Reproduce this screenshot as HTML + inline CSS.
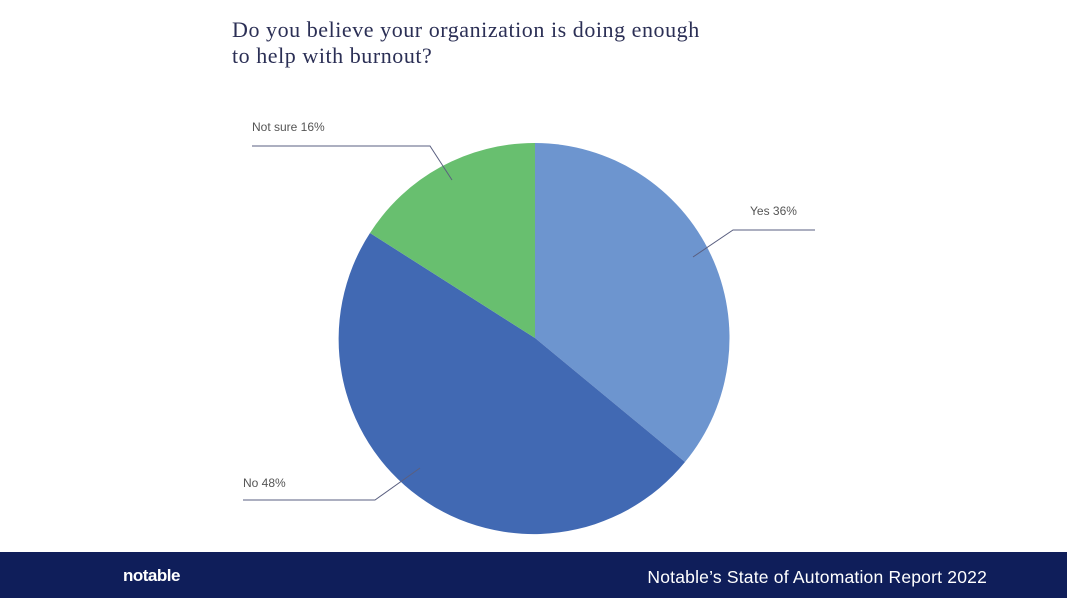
<!DOCTYPE html>
<html><head><style>
html,body{margin:0;padding:0;background:#fff;width:1067px;height:600px;overflow:hidden;position:relative}
.t{position:absolute;left:232px;top:17px;font-family:"Liberation Serif",serif;font-size:22px;line-height:26px;color:#2b2f55;letter-spacing:0.55px}
.f{position:absolute;left:0;top:552px;width:1067px;height:46px;background:#0f1e5a}
.f .l{position:absolute;left:123px;top:14px;color:#fff;font-family:"Liberation Sans",sans-serif;font-weight:bold;font-size:17px;letter-spacing:-0.5px}
.f .r{position:absolute;right:80px;top:15px;color:#fff;font-family:"Liberation Sans",sans-serif;font-size:17.5px;letter-spacing:0.2px}
svg{position:absolute;left:0;top:0}
</style></head><body>
<div class="t">Do you believe your organization is doing enough<br>to help with burnout?</div>
<svg width="1067" height="552">
<path d="M535,338 L535,143 A195,195 0 0 1 685,462 Z" fill="#6d95cf"/>
<path d="M535,338 L685,462 A195,195 0 0 1 370,233 Z" fill="#4169b3"/>
<path d="M535,338 L370,233 A195,195 0 0 1 535,143 Z" fill="#68bf6f"/>
<g stroke="#5a5f80" stroke-width="1" fill="none">
<polyline points="693,257 733,230 815,230"/>
<polyline points="252,146 430,146 452,180"/>
<polyline points="243,500 375,500 420,468"/>
</g>
<g font-family="Liberation Sans,sans-serif" font-size="12" fill="#555">
<text x="750" y="215">Yes 36%</text>
<text x="252" y="131">Not sure 16%</text>
<text x="243" y="487">No 48%</text>
</g>
</svg>
<div class="f"><span class="l">notable</span><span class="r">Notable’s State of Automation Report 2022</span></div>
</body></html>
